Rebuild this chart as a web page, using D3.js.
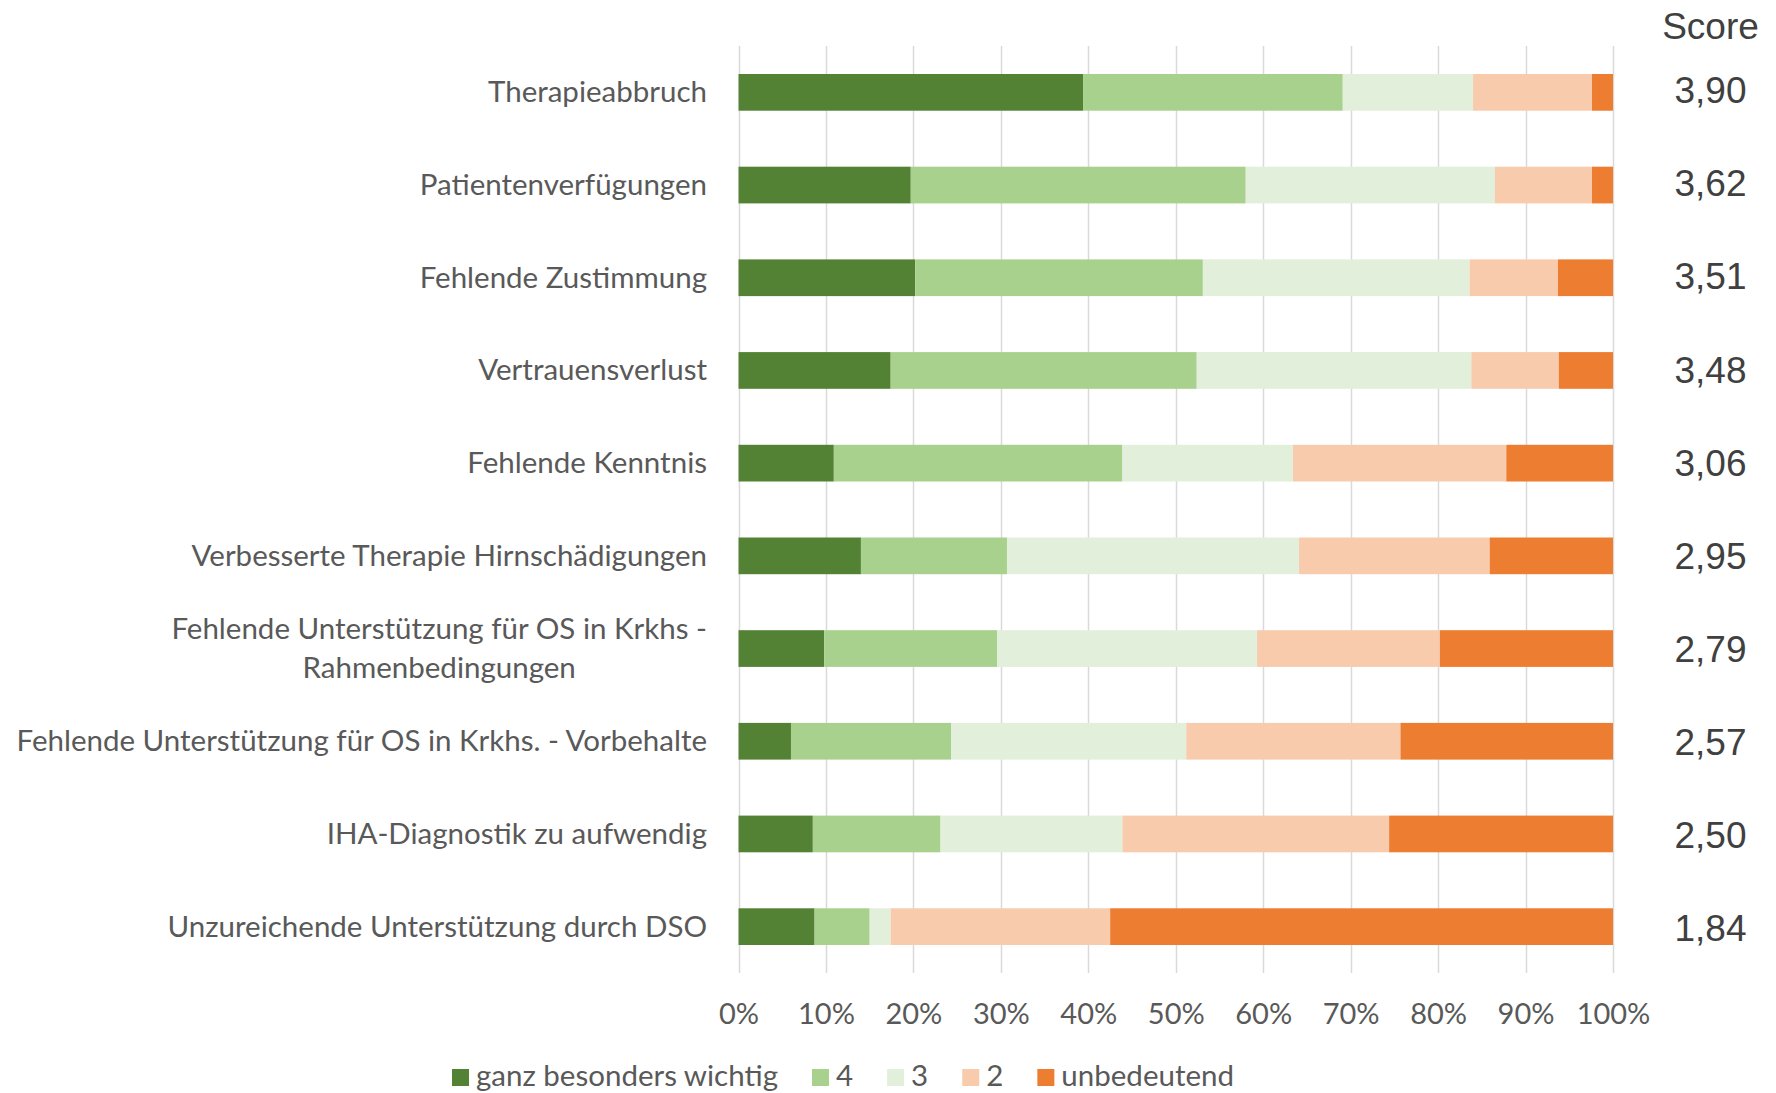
<!DOCTYPE html>
<html>
<head>
<meta charset="utf-8">
<script src="https://cdn.jsdelivr.net/npm/d3@7"></script>
<style>
  html, body { margin: 0; padding: 0; background: #fff; }
  svg { display: block; }
</style>
</head>
<body>
<svg id="chart" width="1776" height="1093"></svg>
<script>
// ---- data ----
const categories = [
  "Therapieabbruch",
  "Patientenverfügungen",
  "Fehlende Zustimmung",
  "Vertrauensverlust",
  "Fehlende Kenntnis",
  "Verbesserte Therapie Hirnschädigungen",
  "Fehlende Unterstützung für OS in Krkhs -\nRahmenbedingungen",
  "Fehlende Unterstützung für OS in Krkhs. - Vorbehalte",
  "IHA-Diagnostik zu aufwendig",
  "Unzureichende Unterstützung durch DSO"
];
const seriesNames = ["ganz besonders wichtig", "4", "3", "2", "unbedeutend"];
const seriesColors = ["#548235", "#A9D18E", "#E2EFDA", "#F8CBAD", "#ED7D31"];
const valGanz = [39.4, 19.7, 20.2, 17.4, 10.9, 14.0, 9.8, 6.0, 8.5, 8.7];
const val4    = [29.7, 38.3, 32.9, 35.0, 33.0, 16.7, 19.8, 18.3, 14.6, 6.3];
const val3    = [14.9, 28.5, 30.5, 31.4, 19.5, 33.4, 29.7, 26.9, 20.8, 2.4];
const val2    = [13.6, 11.1, 10.1, 10.0, 24.4, 21.8, 20.9, 24.5, 30.5, 25.1];
const valUnb  = [2.4, 2.4, 6.3, 6.2, 12.2, 14.1, 19.8, 24.3, 25.6, 57.5];
const scores  = [3.90, 3.62, 3.51, 3.48, 3.06, 2.95, 2.79, 2.57, 2.50, 1.84];
const tickValues = [0, 10, 20, 30, 40, 50, 60, 70, 80, 90, 100];
const scoreTitle = "Score";

// ---- build table ----
const seriesValues = [valGanz, val4, val3, val2, valUnb];
const table = categories.map((c, i) => {
  const row = { cat: c };
  seriesNames.forEach((s, k) => row[s] = seriesValues[k][i]);
  return row;
});

const svg = d3.select("#chart");
const labelFont = "Lato, 'Open Sans', sans-serif";
const labelSize = 29.5;
const labelColor = "#595959";

const x = d3.scaleLinear().domain([0, 100]).range([738.5, 1613]);
const y = d3.scaleBand().domain(categories).range([46, 973]).paddingInner(0.604).paddingOuter(0.302);

// gridlines
svg.append("g")
  .selectAll("line")
  .data(tickValues)
  .join("line")
  .attr("x1", d => Math.round(x(d)) + 0.5)
  .attr("x2", d => Math.round(x(d)) + 0.5)
  .attr("y1", 46)
  .attr("y2", 973)
  .attr("stroke", "#d9d9d9")
  .attr("stroke-width", 1.5);

// stacked bars
const stack = d3.stack().keys(seriesNames);
const stacked = stack(table);
svg.append("g")
  .selectAll("g")
  .data(stacked)
  .join("g")
  .attr("fill", (d, i) => seriesColors[i])
  .selectAll("rect")
  .data(d => d)
  .join("rect")
  .attr("x", d => x(d[0]))
  .attr("width", d => x(d[1]) - x(d[0]))
  .attr("y", d => y(d.data.cat))
  .attr("height", y.bandwidth());

// x axis tick labels
const xAxis = d3.axisBottom(x).tickValues(tickValues).tickFormat(d => d + "%").tickSize(0).tickPadding(0);
const gx = svg.append("g").attr("transform", "translate(0,1000)").call(xAxis);
gx.select(".domain").remove();
gx.selectAll("text")
  .attr("dy", "0")
  .attr("y", 24)
  .attr("font-family", labelFont)
  .attr("font-size", 29)
  .attr("fill", labelColor);

// category labels
const gy = svg.append("g");
categories.forEach(c => {
  const lines = c.split("\n");
  const cy = y(c) + y.bandwidth() / 2;
  const t = gy.append("text")
    .attr("font-family", labelFont)
    .attr("font-size", labelSize)
    .attr("fill", labelColor);
  if (lines.length === 1) {
    t.attr("x", 707).attr("y", cy + 10).attr("text-anchor", "end").text(c);
  } else {
    const widths = lines.map(l => {
      const tmp = gy.append("text").attr("font-family", labelFont).attr("font-size", labelSize).text(l);
      const w = tmp.node().getComputedTextLength();
      tmp.remove();
      return w;
    });
    const maxW = d3.max(widths);
    const centerX = 707 - maxW / 2;
    t.attr("text-anchor", "middle");
    lines.forEach((l, k) => {
      t.append("tspan")
        .attr("x", centerX)
        .attr("y", cy + 10 + (k - (lines.length - 1) / 2) * 38.7)
        .text(l);
    });
  }
});

// score column
const scoreY = d3.scalePoint().domain(categories).range([103.3, 941]);
const fmt = d3.format(".2f");
svg.append("text")
  .attr("x", 1710.5).attr("y", 39)
  .attr("text-anchor", "middle")
  .attr("font-family", "'Liberation Sans', Arial, sans-serif")
  .attr("font-size", 37)
  .attr("fill", "#404040")
  .text(scoreTitle);
svg.append("g")
  .selectAll("text")
  .data(categories)
  .join("text")
  .attr("x", 1710.5)
  .attr("y", d => scoreY(d))
  .attr("text-anchor", "middle")
  .attr("font-family", "'Liberation Sans', Arial, sans-serif")
  .attr("font-size", 37)
  .attr("fill", "#404040")
  .text((d, i) => fmt(scores[i]).replace(".", ","));

// legend
const legend = svg.append("g");
let lx = 452;
seriesNames.forEach((s, i) => {
  legend.append("rect")
    .attr("x", lx).attr("y", 1069)
    .attr("width", 17).attr("height", 17)
    .attr("fill", seriesColors[i]);
  const t = legend.append("text")
    .attr("x", lx + 17 + 7).attr("y", 1086)
    .attr("font-family", labelFont)
    .attr("font-size", labelSize)
    .attr("fill", labelColor)
    .text(s);
  lx = lx + 17 + 7 + t.node().getComputedTextLength() + 34;
});
</script>
</body>
</html>
